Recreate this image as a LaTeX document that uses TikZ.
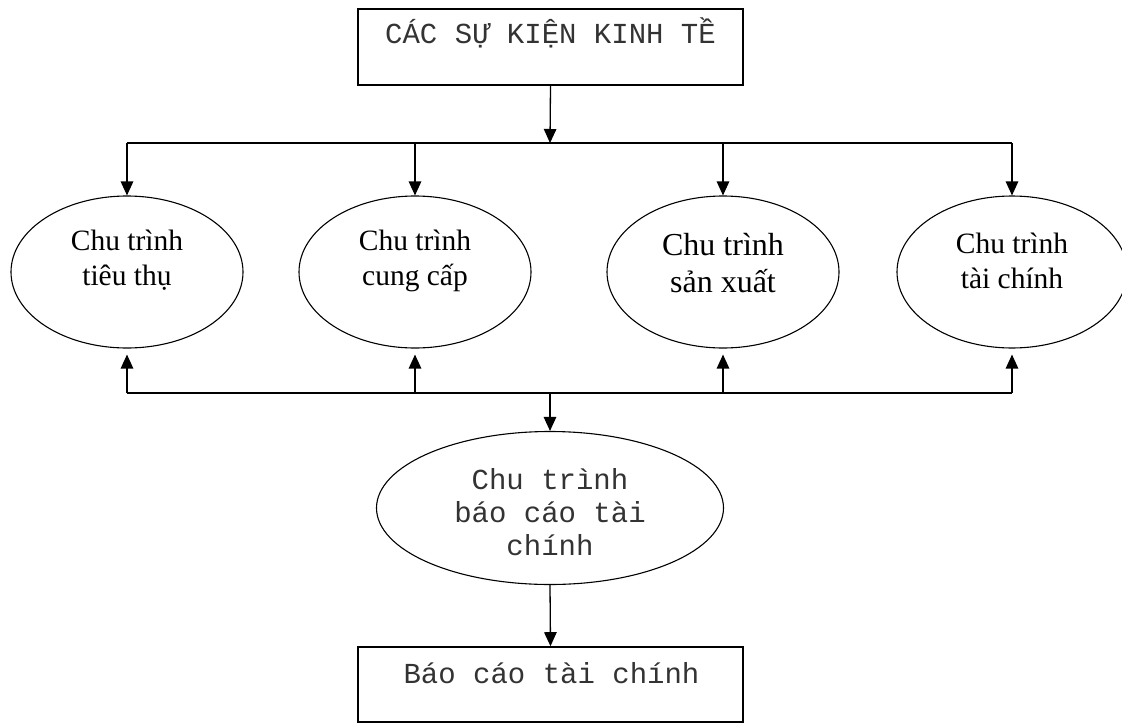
\documentclass[tikz,border=0pt]{standalone}
\usepackage{fontspec}
\setmainfont{Liberation Serif}
\newfontfamily\monofont{Liberation Mono}
\usetikzlibrary{arrows.meta,shapes.geometric}

\begin{document}
\begin{tikzpicture}[x=1pt,y=-1pt,
  line width=1.3pt,
  arr/.style={-{Triangle[width=12.5pt,length=14pt]}},
  box/.style={draw,rectangle,inner sep=0pt,line width=1.6pt,minimum width=385pt,minimum height=76pt},
  cycle/.style={draw,ellipse,inner sep=0pt,line width=1.1pt,minimum width=232pt,minimum height=152pt},
  serifl/.style={align=center,font=\fontsize{29.5}{35}\selectfont,inner sep=0pt},
  monol/.style={align=center,text=black!80,font=\monofont\fontsize{29}{33}\selectfont,inner sep=0pt}]
  \useasboundingbox (0,0) rectangle (1122,723);

  % boxes
  \node[box] (top) at (550.5,47) {};
  \node[monol] (toptext) at (550.5,33) {CÁC SỰ KIỆN KINH TỀ};
  \node[box,minimum height=75pt] (bot) at (550.5,684.5) {};
  \node[monol] (bottext) at (551.5,673) {Báo cáo tài chính};

  % the four cycles
  \node[cycle] (e1) at (127,272) {};
  \node[cycle] (e2) at (415,272) {};
  \node[cycle] (e3) at (723,272) {};
  \node[cycle,minimum width=230pt] (e4) at (1012,272) {};
  \node[serifl] (t1) at (127,260.5) {Chu trình\\tiêu thụ};
  \node[serifl] (t2) at (415,260.5) {Chu trình\\cung cấp};
  \node[serifl,font=\fontsize{32}{37}\selectfont] (t3) at (723,263) {Chu trình\\sản xuất};
  \node[serifl] (t4) at (1012,260.5) {Chu trình\\tài chính};

  % reporting cycle
  \node[cycle,minimum width=347pt,minimum height=153pt] (e5) at (550,508) {};
  \node[monol] (t5) at (550,512) {Chu trình\\báo cáo tài\\chính};

  % upper bus
  \coordinate (tb) at (550,143);
  \draw[arr] (top.south) -- (tb);
  \draw (e1.north |- tb) -- (e4.north |- tb);
  \foreach \e in {e1,e2,e3,e4}
    \draw[arr] (\e.north |- tb) -- (\e.north);

  % lower bus
  \coordinate (bb) at (550,393);
  \draw (e1.south |- bb) -- (e4.south |- bb);
  \foreach \e in {e1,e2,e3,e4}
    \draw[arr,shorten >=6pt] (\e.south |- bb) -- (\e.south);
  \draw[arr] (bb) -- (e5.north);
  \draw[arr] (e5.south) -- (bot.north);
\end{tikzpicture}
\end{document}
